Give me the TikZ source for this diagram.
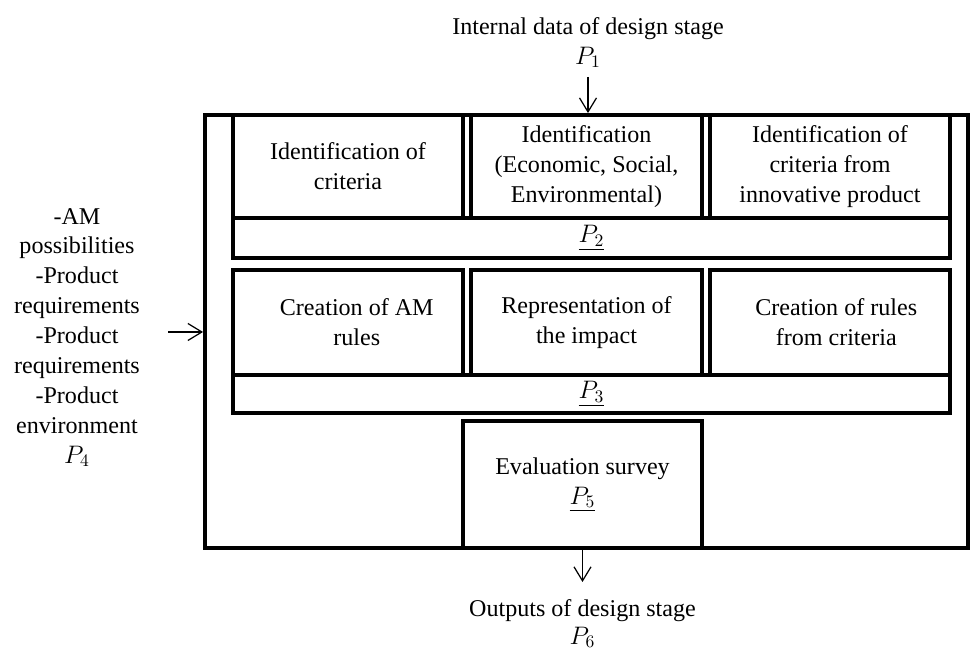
\documentclass[tikz,border=0pt]{standalone}
\usepackage{fontspec}
\setmainfont{Liberation Serif}
\usetikzlibrary{arrows.meta}
\usetikzlibrary{positioning}
\usetikzlibrary{calc}

\tikzset{
  frame/.style={draw, line width=2.2pt, inner sep=0pt, align=center},
  feed/.style={-{Straight Barb[length=0.28cm,width=0.34cm]}, line width=0.7pt},
  txt/.style={align=center}
}

\begin{document}
\begin{tikzpicture}[font=\fontsize{13.7}{17}\selectfont]
    \useasboundingbox (0,0) rectangle (19.42,13.02);

    % whole design stage
    \node[frame, minimum width=15.26cm, minimum height=8.66cm] (stage) at (11.73,6.39) {};

    % identification row
    \node[frame, minimum width=4.6cm, minimum height=2.06cm] (crit) at (6.96,9.69) {Identification of\\criteria};
    \node[frame, minimum width=4.62cm, minimum height=2.06cm] (ident) at (11.73,9.69) {Identification\\(Economic, Social,\\Environmental)};
    \node[frame, minimum width=4.8cm, minimum height=2.06cm] (innov) at (16.6,9.69) {Identification of\\criteria from\\innovative product};
    \node[frame, minimum width=14.34cm, minimum height=0.8cm] (ptwo) at (11.83,8.26) {$\underline{P_2}$};

    % rules row
    \node[frame, minimum width=4.6cm, minimum height=2.1cm] (amrules) at (6.96,6.57) {\hspace{0.35cm}Creation of AM\\\hspace{0.35cm}rules};
    \node[frame, minimum width=4.62cm, minimum height=2.1cm] (impact) at (11.73,6.57) {Representation of\\the impact};
    \node[frame, minimum width=4.8cm, minimum height=2.1cm] (rules) at (16.6,6.57) {\hspace{0.25cm}Creation of rules\\\hspace{0.25cm}from criteria};
    \node[frame, minimum width=14.34cm, minimum height=0.76cm] (pthree) at (11.83,5.14) {$\underline{P_3}$};

    % evaluation
    \node[frame, minimum width=4.78cm, minimum height=2.54cm] (survey) at (11.65,3.33) {Evaluation survey\\$\underline{P_5}$};

    % inputs and outputs
    \node[txt, anchor=south, inner sep=5pt] (internal) at (11.76,11.48) {Internal data of design stage\\$P_1$};
    \draw[feed] (internal) -- (internal |- stage.north);

    \node[txt] (reqs) at (1.54,6.27) {-AM\\possibilities\\-Product\\requirements\\-Product\\requirements\\-Product\\environment\\$P_4$};
    \coordinate (feedin) at (3.36,6.38);
    \draw[feed] (feedin) -- (feedin -| stage.west);

    \node[txt, anchor=north, inner sep=10pt, font=\fontsize{13.7}{15.5}\selectfont] (output) at (11.65,1.38) {Outputs of design stage\\$P_6$};
    \draw[feed] (survey.south) -- (output.north);
\end{tikzpicture}
\end{document}
